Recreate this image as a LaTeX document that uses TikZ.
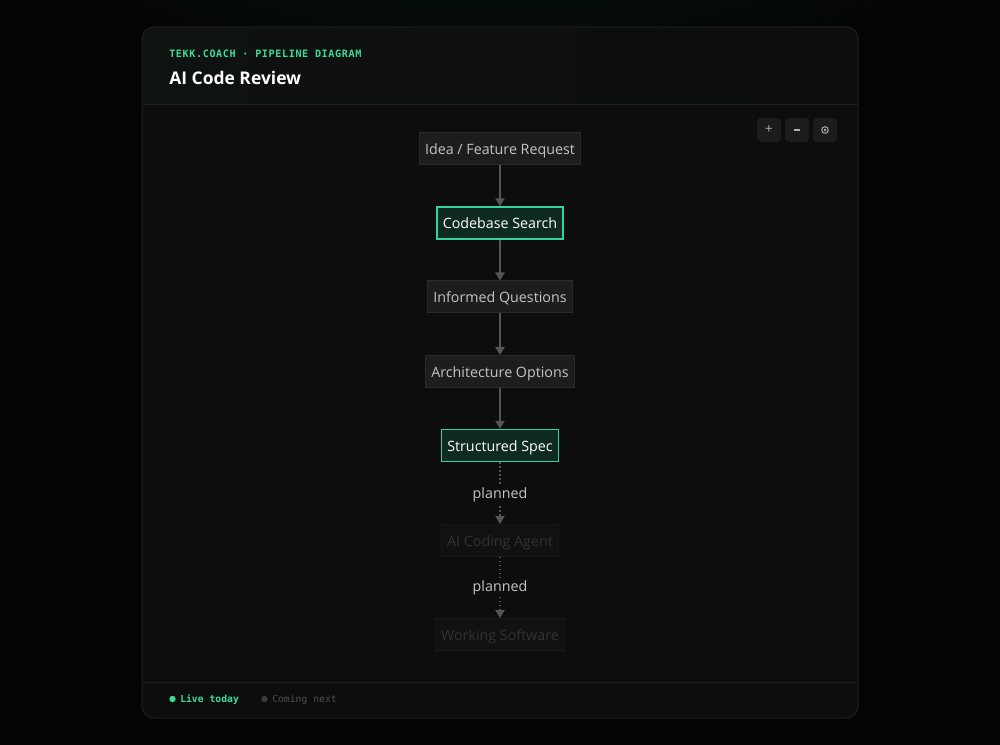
\documentclass[tikz,border=0pt]{standalone}
\usepackage{fontspec}
\setmainfont{Open Sans}
\newfontfamily\monof{DejaVu Sans Mono}
\newfontfamily\monospaced[LetterSpace=6]{DejaVu Sans Mono}
\usetikzlibrary{arrows.meta}
\definecolor{pagebg}{HTML}{030504}
\definecolor{cardbg}{HTML}{0D0D0D}
\definecolor{cardline}{HTML}{1E1E1E}
\definecolor{headbg}{HTML}{0F1312}
\definecolor{accent}{HTML}{3DDC97}
\definecolor{livefill}{HTML}{0E2A21}
\definecolor{livebord}{HTML}{34D39C}
\definecolor{stepfill}{HTML}{1D1D1D}
\definecolor{stepbord}{HTML}{2A2A2A}
\definecolor{steptext}{HTML}{C4C4C4}
\definecolor{nextfill}{HTML}{111111}
\definecolor{nextbord}{HTML}{181818}
\definecolor{nexttext}{HTML}{323232}
\definecolor{arrowcol}{HTML}{555555}
\definecolor{btnfill}{HTML}{1C1C1C}
\definecolor{btntext}{HTML}{B0B0B0}
\definecolor{greydot}{HTML}{3A3A3A}
\definecolor{greytext}{HTML}{4E4E4E}
\tikzset{
  stepbox/.style={draw=stepbord, fill=stepfill, text=steptext, line width=0.75pt,
    minimum height=24pt, text height=8.4pt, text depth=0pt, inner xsep=4.4pt,
    font=\fontsize{10.7}{12}\selectfont},
  livebox/.style={stepbox, draw=livebord, fill=livefill, text=white, line width=1.1pt},
  nextbox/.style={stepbox, draw=nextbord, fill=nextfill, text=nexttext},
  flow/.style={draw=arrowcol, line width=1pt, -{Triangle[width=7pt,length=6pt]}},
  planflow/.style={flow, dotted},
  planlabel/.style={fill=cardbg, text=steptext, inner sep=2pt, text height=7.6pt, text depth=2pt, font=\fontsize{10.7}{12}\selectfont},
  btn/.style={fill=btnfill, rounded corners=3pt, minimum width=18pt, minimum height=18pt, text=btntext, inner sep=0pt}
}
\begin{document}
\begin{tikzpicture}[x=0.75pt,y=-0.75pt]
\useasboundingbox (0,0) rectangle (1000,745);
\fill[pagebg] (0,0) rectangle (1000,745);
\shade[inner color=accent!10!pagebg, outer color=pagebg] (500,-120) ellipse (520 and 200);
% card
\fill[cardbg] (142,27) [rounded corners=9pt] rectangle (858,718);
\begin{scope}
\clip (142,27) [rounded corners=9pt] rectangle (858,718);
\shade[left color=headbg!70!accent!8!cardbg, right color=cardbg] (142,27) rectangle (858,105);
\end{scope}
\draw[cardline, line width=0.75pt] (142,27) [rounded corners=9pt] rectangle (858,718);
\draw[cardline, line width=0.75pt] (142,105) -- (858,105);
\draw[cardline, line width=0.75pt] (142,682) -- (858,682);
% header texts
\node[anchor=west, text=accent, inner sep=0pt, font=\monospaced\bfseries\fontsize{7.6}{9}\selectfont] (kicker) at (169,53.5) {TEKK.COACH · PIPELINE DIAGRAM};
\node[anchor=west, text=white, inner sep=0pt, font=\bfseries\fontsize{13.1}{16}\selectfont] (title) at (169,78) {AI Code Review};
% buttons
\node[btn, font=\fontsize{10}{10}\selectfont] (zin) at (769,130) {+};
\node[btn] (zout) at (797,130) {};
\draw[btntext, line width=0.8pt] ([xshift=-2pt]zout.center) -- ([xshift=2pt]zout.center);
\node[btn] (zfit) at (825,130) {};
\draw[btntext, line width=0.7pt] (zfit.center) circle (3.3);
\fill[btntext] (zfit.center) circle (1.4);
% nodes
\node[stepbox] (n1) at (500,149) {Idea / Feature Request};
\node[livebox] (n2) at (500,223) {Codebase Search};
\node[stepbox] (n3) at (500,297) {Informed Questions};
\node[stepbox] (n4) at (500,371.5) {Architecture Options};
\node[livebox] (n5) at (500,445.5) {Structured Spec};
\node[nextbox] (n6) at (500,540.5) {AI Coding Agent};
\node[nextbox] (n7) at (500,634.5) {Working Software};
% connectors
\draw[planflow] (n5) -- node[planlabel, pos=0.53] (l1) {planned} (n6);
\draw[planflow] (n6) -- node[planlabel, pos=0.51] (l2) {planned} (n7);
\draw[flow] (n1) -- (n2);
\draw[flow] (n2) -- (n3);
\draw[flow] (n3) -- (n4);
\draw[flow] (n4) -- (n5);
% footer legend
\fill[accent] (172.5,699) circle (3.2) coordinate (d1);
\node[anchor=west, text=accent, inner sep=0pt, font=\monof\bfseries\fontsize{7.3}{9}\selectfont] (live) at (180,699.5) {Live today};
\fill[greydot] (264.5,699) circle (3.2) coordinate (d2);
\node[anchor=west, text=greytext, inner sep=0pt, font=\monof\fontsize{7.3}{9}\selectfont] (next) at (272,699.5) {Coming next};
\end{tikzpicture}
\end{document}
